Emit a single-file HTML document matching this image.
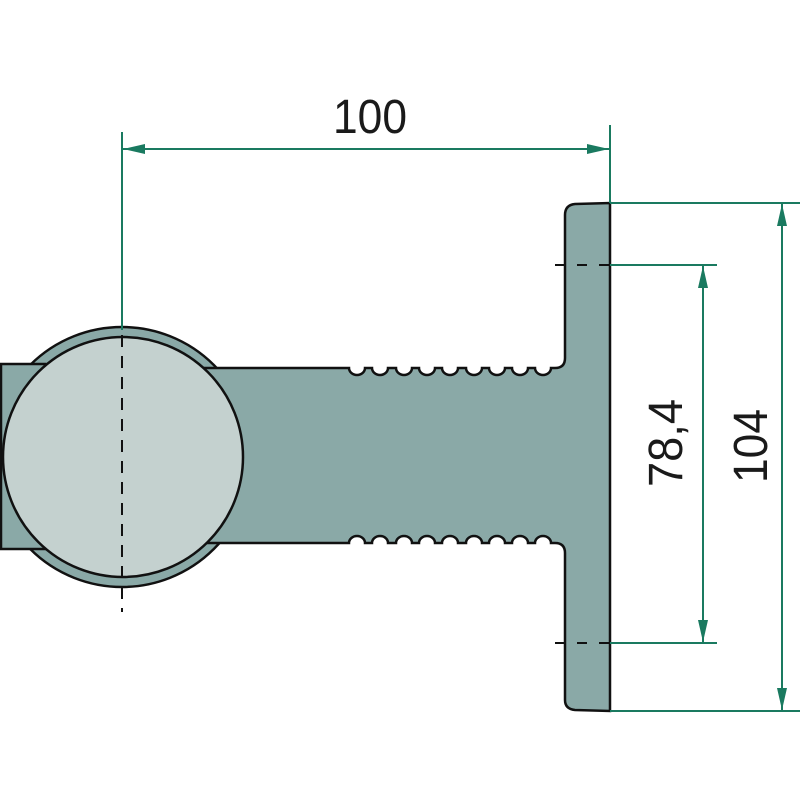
<!DOCTYPE html>
<html><head><meta charset="utf-8"><style>html,body{margin:0;padding:0;background:#fff}svg{display:block}</style></head>
<body>
<svg width="800" height="800" viewBox="0 0 800 800" xmlns="http://www.w3.org/2000/svg">
<defs>
<marker id="a" viewBox="0 0 22 10" refX="22" refY="5" markerWidth="22" markerHeight="10" markerUnits="userSpaceOnUse" orient="auto-start-reverse"><path d="M0,0 L22,5 L0,10 Z" fill="#1a7a60"/></marker>
</defs>
<circle cx="122" cy="457" r="130" fill="#8aa9a7" stroke="#111" stroke-width="2.5"/>
<rect x="1" y="364" width="44" height="185" fill="#8aa9a7" stroke="#111" stroke-width="2.5"/>
<path d="M140 368 L349 368
A8 7 0 0 0 365 368 L372 368 A8 7 0 0 0 388 368 L396 368 A8 7 0 0 0 412 368 L419 368 A8 7 0 0 0 435 368 L442 368 A8 7 0 0 0 458 368 L466 368 A8 7 0 0 0 482 368 L489 368 A8 7 0 0 0 505 368 L512 368 A8 7 0 0 0 528 368 L535 368 A8 7 0 0 0 551 368
L555 368 Q565 368 565 358 L565 215 Q565 205 575 204 L610 203 L610 711 L575 710 Q565 709 565 700 L565 553 Q565 543 555 543
L551 543 A8 7 0 0 0 535 543 L528 543 A8 7 0 0 0 512 543 L505 543 A8 7 0 0 0 489 543 L482 543 A8 7 0 0 0 466 543 L458 543 A8 7 0 0 0 442 543 L435 543 A8 7 0 0 0 419 543 L412 543 A8 7 0 0 0 396 543 L388 543 A8 7 0 0 0 372 543 L365 543 A8 7 0 0 0 349 543 L140 543" fill="#8aa9a7" stroke="#111" stroke-width="2.5"/>
<circle cx="123" cy="457" r="120" fill="#c4d1cf" stroke="#111" stroke-width="2.5"/>
<line x1="122" y1="335" x2="122" y2="612" stroke="#111" stroke-width="2" stroke-dasharray="12,9"/>
<line x1="555" y1="265" x2="610" y2="265" stroke="#111" stroke-width="2" stroke-dasharray="10,12"/>
<line x1="555" y1="643" x2="610" y2="643" stroke="#111" stroke-width="2" stroke-dasharray="10,12"/>
<g stroke="#1a7a60" stroke-width="2" fill="none">
<line x1="122" y1="132" x2="122" y2="330"/>
<line x1="610" y1="125" x2="610" y2="203"/>
<line x1="123" y1="149" x2="609" y2="149" marker-start="url(#a)" marker-end="url(#a)"/>
<line x1="610" y1="203" x2="800" y2="203"/>
<line x1="610" y1="711" x2="800" y2="711"/>
<line x1="782" y1="204" x2="782" y2="710" marker-start="url(#a)" marker-end="url(#a)"/>
<line x1="610" y1="265" x2="717" y2="265"/>
<line x1="610" y1="643" x2="717" y2="643"/>
<line x1="703" y1="266" x2="703" y2="642" marker-start="url(#a)" marker-end="url(#a)"/>
</g>
<g font-family="Liberation Sans, sans-serif" font-size="48" fill="#1a1a1a">
<text x="370" y="133" text-anchor="middle" textLength="74" lengthAdjust="spacingAndGlyphs">100</text>
<text transform="translate(682,443) rotate(-90)" text-anchor="middle" textLength="88" lengthAdjust="spacingAndGlyphs">78,4</text>
<text transform="translate(767,446) rotate(-90)" text-anchor="middle" textLength="74" lengthAdjust="spacingAndGlyphs">104</text>
</g>
</svg>
</body></html>
